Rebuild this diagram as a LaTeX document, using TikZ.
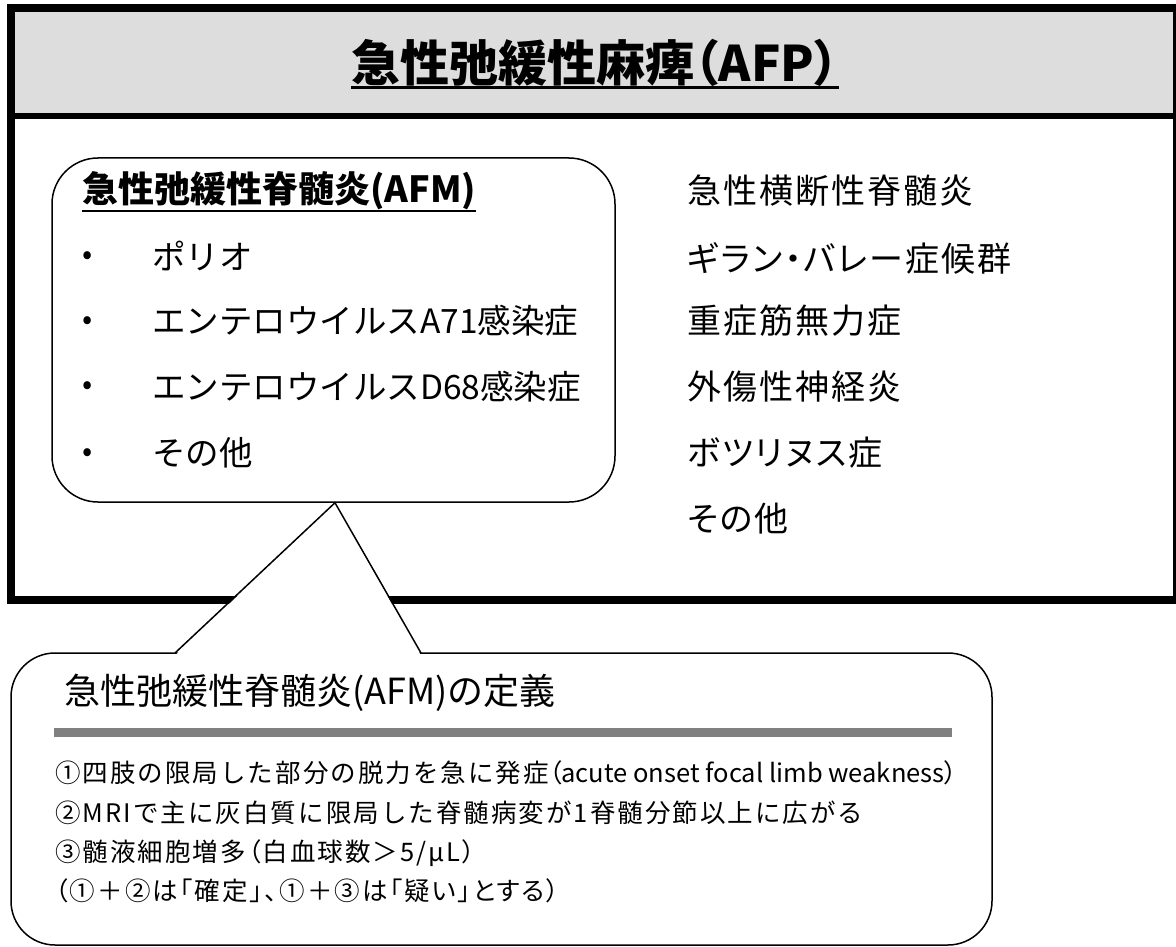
\documentclass[tikz,border=0pt]{standalone}
\usepackage{fontspec}
\setmainfont{Noto Sans CJK JP}
\newfontfamily\jpwide[LetterSpace=6,RawFeature=+palt]{Noto Sans CJK JP}
\newfontfamily\jpprop[RawFeature=+palt]{Noto Sans CJK JP}
\newfontfamily\jpdef[LetterSpace=8]{Noto Sans CJK JP}
\newfontfamily\jpdefp[LetterSpace=8,RawFeature=+palt]{Noto Sans CJK JP}
\usepackage{xcolor}
\usetikzlibrary{positioning,calc}

\definecolor{headgray}{RGB}{221,221,221}
\definecolor{bargray}{RGB}{128,128,128}

\tikzset{
	item/.style={anchor=west,inner sep=0pt,font=\fontsize{33.5}{40}\selectfont},
	other/.style={anchor=west,inner sep=0pt,font=\jpwide\fontsize{34}{40}\selectfont},
	bullet/.style={inner sep=0pt,font=\fontsize{30}{36}\selectfont},
	defline/.style={anchor=west,inner sep=0pt,font=\jpdef\fontsize{25.5}{30}\selectfont},
	balloon/.style={draw=black,line width=1.5pt,fill=white,rounded corners=46pt}
}

\begin{document}
\begin{tikzpicture}[x=1pt,y=-1pt]
	\useasboundingbox (0,0) rectangle (1176,947);
	\fill[headgray] (11,8) rectangle (1177,116);
	\draw[line width=8.5pt] (11,8) rectangle (1177,600);
	\draw[line width=6pt] (11,116) -- (1177,116);
	\node[inner sep=0pt,font=\jpprop\bfseries\fontsize{49}{56}\selectfont](title) at (595,63) {急性弛緩性麻痺（AFP）};
	\draw[line width=3pt] ([yshift=-1pt]title.south west) -- ([yshift=-1pt]title.south east);

	\node[balloon,minimum width=563pt,minimum height=344pt](afmbox) at (333.5,330) {};
	\node[anchor=west,inner sep=0pt,font=\bfseries\fontsize{36}{42}\selectfont](afm) at (82,191) {急性弛緩性脊髄炎(AFM)};
	\draw[line width=2pt] ([yshift=-1pt]afm.south west) -- ([yshift=-1pt]afm.south east);
	\node[bullet](b1) at (88,258) {•};
	\node[bullet](b2) at (88,323) {•};
	\node[bullet](b3) at (88,388) {•};
	\node[bullet](b4) at (88,455) {•};
	\node[item](polio) at (152,256) {ポリオ};
	\node[item](a71) at (152,321) {エンテロウイルスA71感染症};
	\node[item](d68) at (152,387) {エンテロウイルスD68感染症};
	\node[item](etc1) at (152,453) {その他};

	\node[other](atm) at (687,191) {急性横断性脊髄炎};
	\node[other](gbs) at (687,258) {ギラン・バレー症候群};
	\node[other](mg) at (687,321) {重症筋無力症};
	\node[other](trauma) at (687,387) {外傷性神経炎};
	\node[other](botu) at (687,453) {ボツリヌス症};
	\node[other](etc2) at (687,519) {その他};

	\node[balloon,rounded corners=44pt,minimum width=981pt,minimum height=292pt](defbox) at (501.5,799) {};
	\coordinate (tip) at ($(afmbox.south)+(1.5,0)$);
	\coordinate (legl) at (175,653);
	\coordinate (legr) at (421,653);
	\fill[white] ($(legl)+(0,2.5)$) -- (tip) -- ($(legr)+(0,2.5)$) -- cycle;
	\draw[line width=1.5pt] (legl) -- (tip) -- (legr);

	\node[anchor=west,inner sep=0pt,font=\fontsize{36}{42}\selectfont](deftitle) at (64,693) {急性弛緩性脊髄炎(AFM)の定義};
	\fill[bargray] (54,727.5) rectangle (952,737);
	\node[defline](c1) at (55,773) {①四肢の限局した部分の脱力を急に発症{\jpprop（acute onset focal limb weakness）}};
	\node[defline](c2) at (55,813) {②MRIで主に灰白質に限局した脊髄病変が1脊髄分節以上に広がる};
	\node[defline,font=\jpdefp\fontsize{25.5}{30}\selectfont](c3) at (55,853) {③髄液細胞増多（白血球数＞5/μL）};
	\node[defline,font=\jpdefp\fontsize{25.5}{30}\selectfont](c4) at (55,891) {（①＋②は「確定」、①＋③は「疑い」とする）};
\end{tikzpicture}
\end{document}
